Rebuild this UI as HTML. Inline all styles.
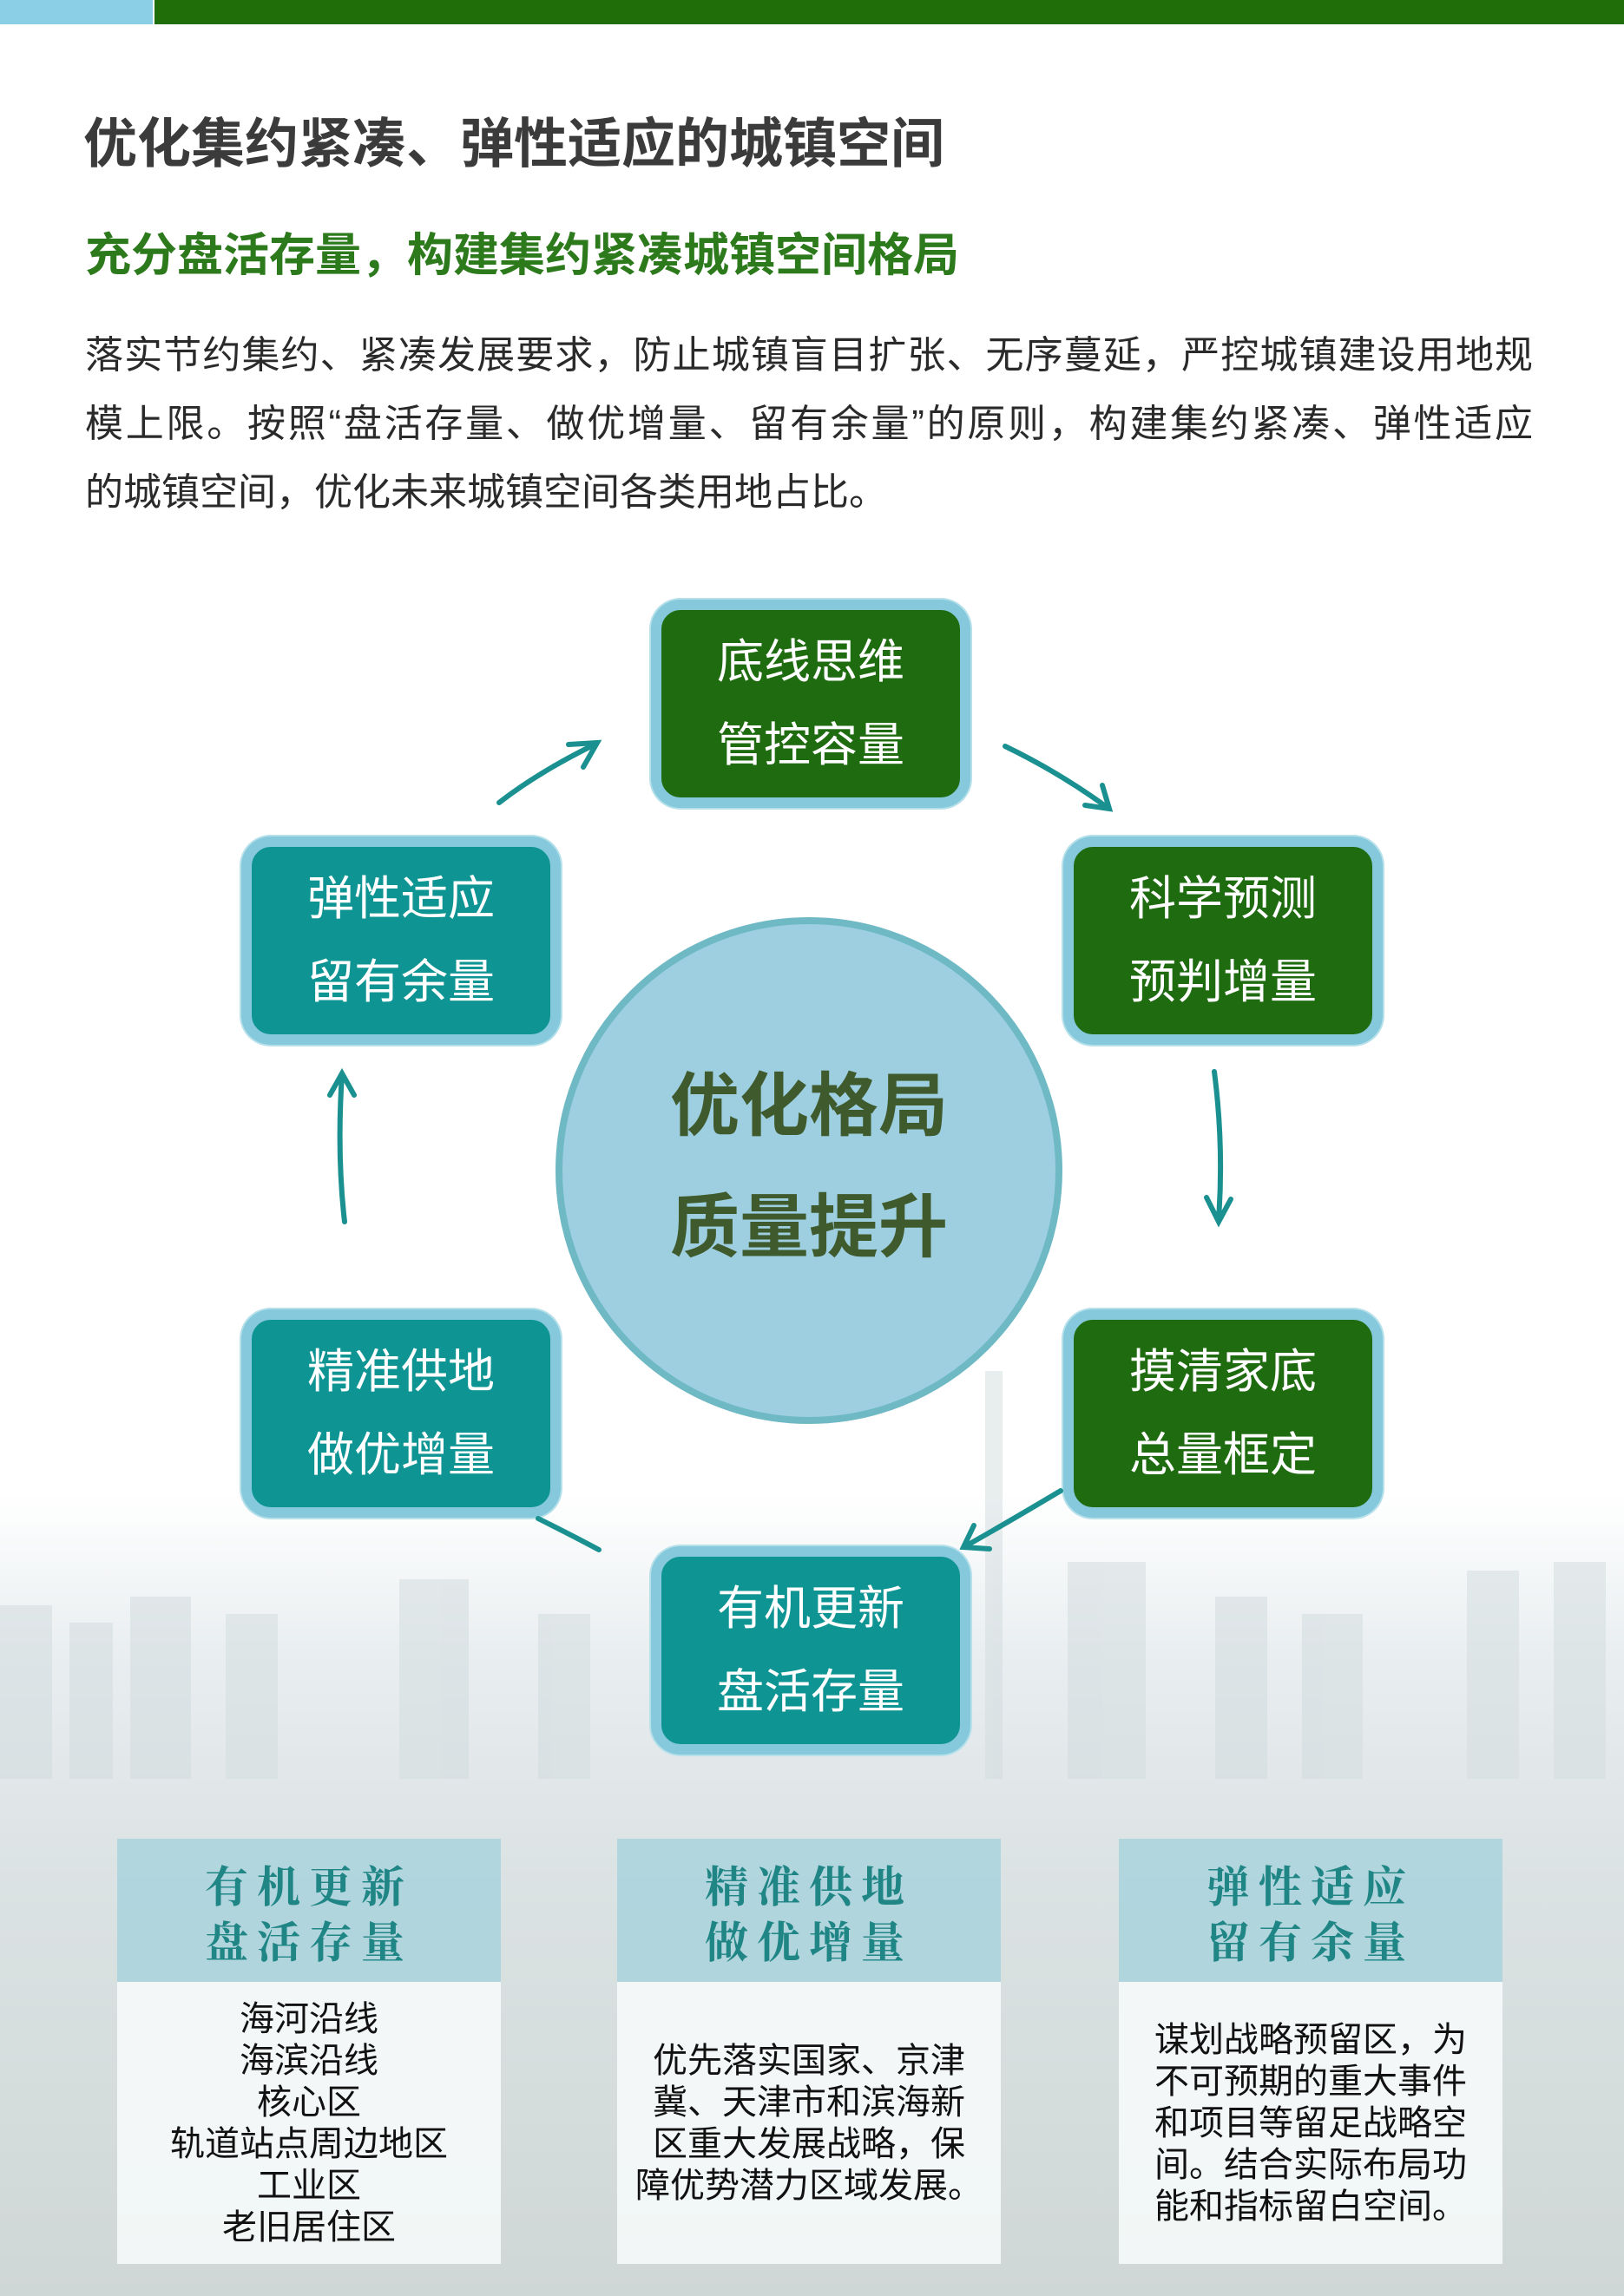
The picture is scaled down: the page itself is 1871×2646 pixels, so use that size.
<!DOCTYPE html>
<html><head><meta charset="utf-8"><style>
*{margin:0;padding:0;box-sizing:border-box}
body{width:1871px;height:2646px;position:relative;overflow:hidden;background:#fff;font-family:"Liberation Sans","Noto Sans CJK SC",sans-serif}
.abs{position:absolute}
.box{position:absolute;width:368px;height:240px;border:12px solid #86c9dc;border-radius:34px;color:#fff;font-size:54px;text-align:center;line-height:96px;padding-top:12px;box-shadow:0 0 0 2px #b6e0ea}
.g{background:#1f6b10}.t{background:#0f9494}
.card{position:absolute;width:442px;top:2119px;height:490px}
.ch{height:165px;background:rgba(160,208,220,0.7);color:#1f8585;font-family:"Noto Serif CJK SC","Liberation Serif",serif;font-weight:bold;font-size:50px;letter-spacing:10px;text-align:center;line-height:64px;padding-top:20px}
.cb{height:325px;background:rgba(248,251,252,0.85);color:#111;font-size:40px;line-height:48px;text-align:center;display:flex;align-items:center;justify-content:center}
.jl{display:block;width:1668px;text-align:justify;text-align-last:justify}
</style></head><body>
<svg class="abs" style="left:0;top:0" width="1871" height="2646">
<defs><linearGradient id="bg" x1="0" y1="0" x2="0" y2="1">
<stop offset="0" stop-color="#fff"/><stop offset="0.65" stop-color="#fff"/><stop offset="0.72" stop-color="#e9eef0"/><stop offset="0.82" stop-color="#dbe2e3"/><stop offset="1" stop-color="#cfd7d6"/></linearGradient></defs>
<rect width="1871" height="2646" fill="url(#bg)"/>
<g fill="#d2dbde" opacity="0.5">
<rect x="0" y="1850" width="60" height="200"/><rect x="80" y="1870" width="50" height="180"/><rect x="150" y="1840" width="70" height="210"/><rect x="260" y="1860" width="60" height="190"/><rect x="460" y="1820" width="80" height="230"/><rect x="620" y="1860" width="60" height="190"/><rect x="1230" y="1800" width="90" height="250"/><rect x="1400" y="1840" width="60" height="210"/><rect x="1500" y="1860" width="70" height="190"/><rect x="1690" y="1810" width="60" height="240"/><rect x="1790" y="1800" width="60" height="250"/>
<rect x="1135" y="1580" width="20" height="470"/>
</g>
<rect x="0" y="0" width="176" height="28" fill="#8acfe6"/>
<rect x="178" y="0" width="1693" height="28" fill="#1f6e0a"/>
</svg>
<div class="abs" style="left:96px;top:129px;font-size:62px;font-weight:bold;color:#3b3b3b;line-height:76px">优化集约紧凑、弹性适应的城镇空间</div>
<div class="abs" style="left:98px;top:260px;font-size:53px;font-weight:bold;color:#2c7a1c;line-height:70px">充分盘活存量，构建集约紧凑城镇空间格局</div>
<div class="abs" style="left:98px;top:370px;font-size:44px;color:#2a2a2a;line-height:79px"><span class="jl">落实节约集约、紧凑发展要求，防止城镇盲目扩张、无序蔓延，严控城镇建设用地规</span><span class="jl">模上限。按照“盘活存量、做优增量、留有余量”的原则，构建集约紧凑、弹性适应</span><span style="display:block">的城镇空间，优化未来城镇空间各类用地占比。</span></div>

<div class="abs" style="left:640px;top:1057px;width:584px;height:584px;border-radius:50%;background:#9dcfe1;border:8px solid #6fb9c4"></div>
<div class="abs" style="left:640px;top:1205px;width:584px;text-align:center;font-size:80px;font-weight:bold;color:#3f5a2c;line-height:140px">优化格局<br>质量提升</div>

<div class="box g" style="left:750px;top:691px">底线思维<br>管控容量</div>
<div class="box g" style="left:1225px;top:964px">科学预测<br>预判增量</div>
<div class="box g" style="left:1225px;top:1509px">摸清家底<br>总量框定</div>
<div class="box t" style="left:750px;top:1782px">有机更新<br>盘活存量</div>
<div class="box t" style="left:278px;top:1509px">精准供地<br>做优增量</div>
<div class="box t" style="left:278px;top:964px">弹性适应<br>留有余量</div>

<svg class="abs" style="left:0;top:0" width="1871" height="2646" fill="none" stroke="#1a9090" stroke-width="6" stroke-linecap="round">
<path d="M575 925 Q620 890 685 858"/><path d="M655 858 L688 856 L672 884"/>
<path d="M1158 860 Q1220 890 1275 930"/><path d="M1250 928 L1278 932 L1270 905"/>
<path d="M1399 1235 Q1410 1320 1404 1405"/><path d="M1390 1380 L1404 1408 L1418 1382"/>
<path d="M1222 1718 Q1160 1755 1112 1782"/><path d="M1122 1758 L1110 1783 L1140 1785"/>
<path d="M620 1750 Q660 1770 690 1786"/>
<path d="M397 1408 Q388 1330 394 1238"/><path d="M380 1262 L394 1237 L408 1262"/>
</svg>

<div class="card" style="left:135px"><div class="ch">有机更新<br>盘活存量</div><div class="cb">海河沿线<br>海滨沿线<br>核心区<br>轨道站点周边地区<br>工业区<br>老旧居住区</div></div>
<div class="card" style="left:711px"><div class="ch">精准供地<br>做优增量</div><div class="cb">优先落实国家、京津<br>冀、天津市和滨海新<br>区重大发展战略，保<br>障优势潜力区域发展。</div></div>
<div class="card" style="left:1289px"><div class="ch">弹性适应<br>留有余量</div><div class="cb">谋划战略预留区，为<br>不可预期的重大事件<br>和项目等留足战略空<br>间。结合实际布局功<br>能和指标留白空间。</div></div>
</body></html>
